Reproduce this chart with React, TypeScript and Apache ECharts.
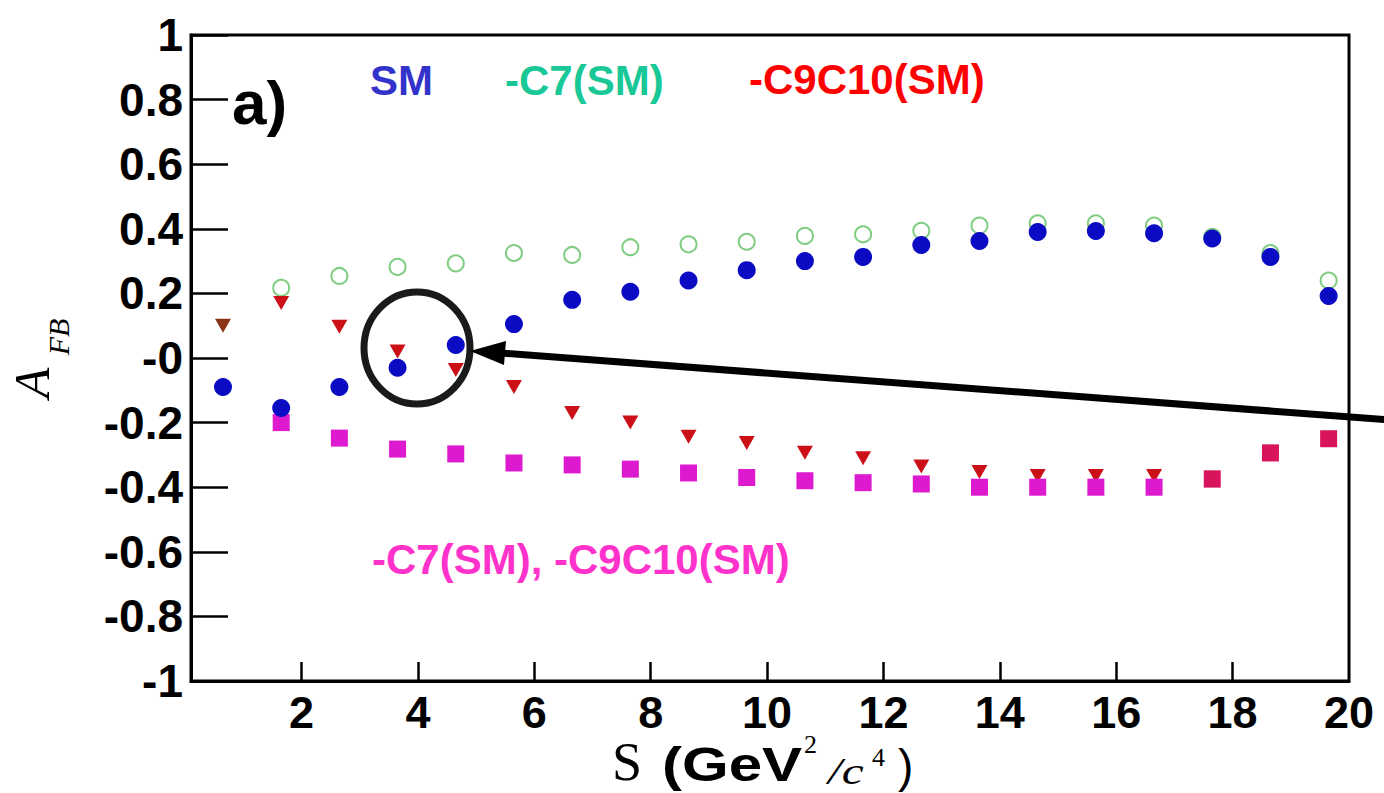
import React, { useEffect, useRef } from "react";
import * as echarts from "echarts";

// ---- data ----
const sValues = [0.65, 1.65, 2.65, 3.65, 4.65, 5.65, 6.65, 7.65, 8.65, 9.65, 10.65, 11.65, 12.65, 13.65, 14.65, 15.65, 16.65, 17.65, 18.65, 19.65];
const smValues = [-0.09, -0.155, -0.09, -0.03, 0.04, 0.105, 0.18, 0.205, 0.24, 0.272, 0.3, 0.313, 0.35, 0.362, 0.39, 0.393, 0.386, 0.37, 0.313, 0.192];
const c7Values = [null, 0.217, 0.254, 0.282, 0.293, 0.325, 0.319, 0.343, 0.352, 0.36, 0.378, 0.383, 0.394, 0.41, 0.417, 0.417, 0.41, 0.375, 0.325, 0.24];
const c9c10Values = [0.1, 0.17, 0.097, 0.02, -0.037, -0.09, -0.17, -0.2, -0.244, -0.263, -0.293, -0.31, -0.336, -0.353, -0.365, -0.365, -0.365, -0.37, -0.29, -0.25];
const bothValues = [null, -0.2, -0.248, -0.282, -0.297, -0.325, -0.331, -0.344, -0.356, -0.37, -0.38, -0.386, -0.39, -0.4, -0.4, -0.4, -0.4, -0.375, -0.294, -0.25];

const xTickValues = [2, 4, 6, 8, 10, 12, 14, 16, 18, 20];
const xTickLabels = ["2", "4", "6", "8", "10", "12", "14", "16", "18", "20"];
const yTickLabels = ["-1", "-0.8", "-0.6", "-0.4", "-0.2", "-0", "0.2", "0.4", "0.6", "0.8", "1"];

const legendSM = "SM";
const legendC7 = "-C7(SM)";
const legendC9 = "-C9C10(SM)";
const legendBoth = "-C7(SM), -C9C10(SM)";

const SANS = "Liberation Sans";
const SERIF = "Liberation Serif";

function pairs(vals: (number | null)[]) {
  return sValues.map((s, i) => [s, vals[i]]).filter((p) => p[1] !== null);
}

export default function App() {
  const ref = useRef<HTMLDivElement>(null);

  useEffect(() => {
    if (!ref.current) return;
    const chart = echarts.init(ref.current, undefined, { renderer: "svg" });

    const redData = sValues.map((s, i) => {
      const d: any = { value: [s, c9c10Values[i]] };
      if (i === 0) d.itemStyle = { color: "#8a3418" };
      return d;
    });
    const bothData = sValues
      .map((s, i) => {
        if (bothValues[i] === null) return null;
        const d: any = { value: [s, bothValues[i]] };
        if (i >= 17) d.itemStyle = { color: "#d8145c" };
        return d;
      })
      .filter((d) => d !== null);

    const tickLine = { color: "#000", width: 2.5 };

    chart.setOption({
      animation: false,
      backgroundColor: "#fff",
      grid: { left: 191, right: 35, top: 35, bottom: 112, show: true, borderColor: "#000", borderWidth: 3, backgroundColor: "transparent" },
      xAxis: {
        type: "value",
        min: 0.1,
        max: 20,
        splitLine: { show: false },
        axisLine: { show: true, onZero: false, lineStyle: { color: "#000", width: 3 } },
        axisTick: { show: true, inside: true, length: 19, customValues: xTickValues.slice(0, -1), lineStyle: tickLine },
        axisLabel: {
          customValues: xTickValues,
          formatter: (v: number) => {
            const i = xTickValues.findIndex((t) => Math.abs(t - v) < 1e-6);
            return i >= 0 ? xTickLabels[i] : "";
          },
          color: "#000",
          fontFamily: SANS,
          fontWeight: "bold",
          fontSize: 45,
          lineHeight: 34,
          margin: 14,
        },
      },
      yAxis: {
        type: "value",
        min: -1,
        max: 1,
        interval: 0.2,
        splitLine: { show: false },
        axisLine: { show: true, onZero: false, lineStyle: { color: "#000", width: 3 } },
        axisTick: { show: true, inside: true, length: 37, lineStyle: tickLine },
        axisLabel: {
          formatter: (v: number) => yTickLabels[Math.round((v + 1) / 0.2)] ?? "",
          color: "#000",
          fontFamily: SANS,
          fontWeight: "bold",
          fontSize: 46,
          margin: 8,
        },
      },
      series: [
        {
          name: legendC7,
          type: "scatter",
          symbol: "emptyCircle",
          symbolSize: 16,
          itemStyle: { color: "#7fcd80", borderColor: "#7fcd80", borderWidth: 2, opacity: 1 },
          data: pairs(c7Values),
          z: 2,
        },
        {
          name: legendC9,
          type: "scatter",
          symbol: "triangle",
          symbolRotate: 180,
          symbolSize: [16, 14],
          itemStyle: { color: "#cc1018", opacity: 1 },
          data: redData,
          z: 3,
        },
        {
          name: legendBoth,
          type: "scatter",
          symbol: "rect",
          symbolSize: 17,
          itemStyle: { color: "#dd1ad0", opacity: 1 },
          data: bothData,
          z: 4,
        },
        {
          name: legendSM,
          type: "scatter",
          symbol: "circle",
          symbolSize: 18,
          itemStyle: { color: "#0b0bc4", opacity: 1 },
          data: pairs(smValues),
          z: 5,
        },
      ],
      graphic: [
        { type: "text", x: 232, y: 102, style: { text: "a)", fill: "#000", font: `bold 62px "${SANS}"`, textAlign: "left", textVerticalAlign: "middle" } },
        { type: "text", x: 370, y: 80, style: { text: legendSM, fill: "#3333cc", font: `bold 42px "${SANS}"`, textAlign: "left", textVerticalAlign: "middle" } },
        { type: "text", x: 505, y: 80, style: { text: legendC7, fill: "#19c896", font: `bold 42px "${SANS}"`, textAlign: "left", textVerticalAlign: "middle" } },
        { type: "text", x: 749, y: 79, style: { text: legendC9, fill: "#ff0000", font: `bold 42px "${SANS}"`, textAlign: "left", textVerticalAlign: "middle" } },
        { type: "text", x: 372, y: 559, style: { text: legendBoth, fill: "#ff33cc", font: `bold 42px "${SANS}"`, textAlign: "left", textVerticalAlign: "middle" } },
        // y-axis title A_FB
        { type: "text", x: 32, y: 383, rotation: Math.PI / 2, style: { text: "A", fill: "#000", font: `italic 50px "${SERIF}"`, textAlign: "center", textVerticalAlign: "middle" } },
        { type: "text", x: 58, y: 337, rotation: Math.PI / 2, style: { text: "FB", fill: "#000", font: `italic 30px "${SERIF}"`, textAlign: "center", textVerticalAlign: "middle" } },
        // x-axis title S (GeV^2/c^4)
        { type: "text", x: 612, y: 762, style: { text: "S", fill: "#000", font: `normal 54px "${SERIF}"`, textAlign: "left", textVerticalAlign: "middle" } },
        { type: "text", x: 662, y: 765, scaleX: 1.25, style: { text: "(GeV", fill: "#000", font: `bold 48px "${SANS}"`, textAlign: "left", textVerticalAlign: "middle" } },
        { type: "text", x: 804, y: 744, style: { text: "2", fill: "#000", font: `normal 26px "${SERIF}"`, textAlign: "left", textVerticalAlign: "middle" } },
        { type: "text", x: 828, y: 771, scaleX: 1.3, style: { text: "/c", fill: "#000", font: `italic 38px "${SERIF}"`, textAlign: "left", textVerticalAlign: "middle" } },
        { type: "text", x: 872, y: 757, style: { text: "4", fill: "#000", font: `normal 26px "${SERIF}"`, textAlign: "left", textVerticalAlign: "middle" } },
        { type: "text", x: 898, y: 766, style: { text: ")", fill: "#000", font: `normal 46px "${SANS}"`, textAlign: "left", textVerticalAlign: "middle" } },
        // annotation circle and arrow
        { type: "ellipse", shape: { cx: 417, cy: 348, rx: 53, ry: 56 }, style: { fill: "none", stroke: "#1a1a1a", lineWidth: 7 }, z: 100 },
        { type: "line", shape: { x1: 1390, y1: 420, x2: 500, y2: 353 }, style: { stroke: "#000", lineWidth: 7 }, z: 100 },
        { type: "polygon", shape: { points: [[470, 351], [506, 341], [504, 365]] }, style: { fill: "#000" }, z: 100 },
      ],
    });

    return () => chart.dispose();
  }, []);

  return <div ref={ref} style={{ position: "fixed", left: 0, top: 0, width: 1384, height: 793 }} />;
}
